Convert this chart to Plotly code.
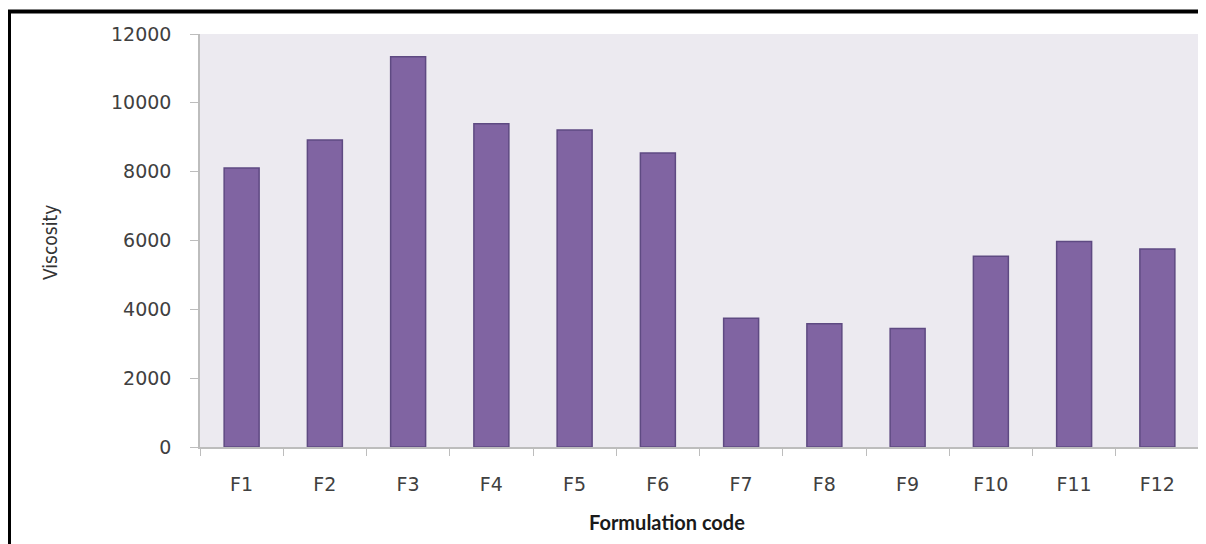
import plotly.graph_objects as go

categories = ["F1", "F2", "F3", "F4", "F5", "F6", "F7", "F8", "F9", "F10", "F11", "F12"]
viscosity = [8110, 8920, 11340, 9390, 9210, 8540, 3740, 3580, 3440, 5540, 5970, 5750]
y_ticks = [0, 2000, 4000, 6000, 8000, 10000, 12000]
y_tick_labels = ["0", "2000", "4000", "6000", "8000", "10000", "12000"]

# page body has an 8px default margin; work in window pixel coordinates
OFF = 8
W, H = 1206 - OFF, 544 - OFF
L, R, T = 200 - OFF, 7, 34 - OFF
PB = 447 - OFF  # plot bottom in figure px
B = H - PB
pw, ph = W - L - R, PB - T

def px_x(x):
    return (x - OFF - L) / pw

def px_y(y):
    return (PB - (y - OFF)) / ph

fig = go.Figure(go.Bar(
    x=categories, y=viscosity,
    marker=dict(color="#8064A2", line=dict(color="#5E4A82", width=1.5)),
))

tickfont = dict(family="DejaVu Sans", size=19, color="#404040")
fig.update_layout(
    width=W, height=H,
    margin=dict(l=L, r=R, t=T, b=B),
    paper_bgcolor="white",
    plot_bgcolor="#ECEAF0",
    bargap=0.58,
    showlegend=False,
    xaxis=dict(
        showline=True, linecolor="#BDBDBD", linewidth=1.5,
        ticks="outside", tickson="boundaries", ticklen=7, tickcolor="#BDBDBD",
        tickfont=tickfont, showgrid=False, ticklabelstandoff=19,
    ),
    yaxis=dict(
        range=[0, 12000], tickvals=y_ticks, ticktext=y_tick_labels,
        showline=True, linecolor="#BDBDBD", linewidth=1.5,
        ticks="outside", ticklen=8, tickcolor="#BDBDBD",
        tickfont=tickfont, showgrid=False, zeroline=False,
        ticklabelstandoff=15,
    ),
    annotations=[
        dict(
            text="<b>Formulation code</b>", xref="paper", yref="paper",
            x=px_x(667), y=px_y(522), showarrow=False,
            font=dict(family="Lato", size=20, color="#1A1A1A"),
            xanchor="center", yanchor="middle",
        ),
        dict(
            text="Viscosity", xref="paper", yref="paper",
            x=px_x(50), y=px_y(243), showarrow=False, textangle=-90,
            font=dict(family="DejaVu Sans Condensed, Noto Sans, sans-serif", size=19, color="#333333"),
            xanchor="center", yanchor="middle",
        ),
    ],
    shapes=[
        dict(type="line", xref="paper", yref="paper",
             x0=px_x(9), x1=px_x(9), y0=px_y(570), y1=px_y(10),
             line=dict(color="black", width=4)),
        dict(type="line", xref="paper", yref="paper",
             x0=px_x(7), x1=px_x(1220), y0=px_y(11.5), y1=px_y(11.5),
             line=dict(color="black", width=4)),
    ],
)

fig.write_html("out.html")
